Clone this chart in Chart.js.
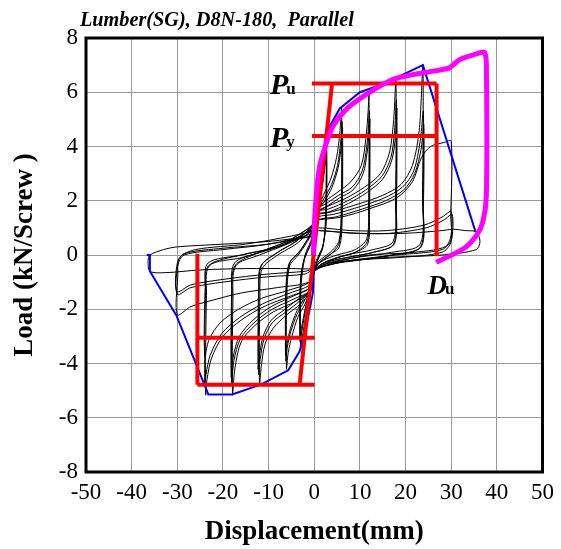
<!DOCTYPE html>
<html>
<head>
<meta charset="utf-8">
<script src="https://cdn.jsdelivr.net/npm/chart.js@4.4.1/dist/chart.umd.min.js"></script>
<style>
  html, body { margin: 0; padding: 0; background: #fff; }
  #box { width: 561px; height: 549px; position: relative; }
</style>
</head>
<body>
<div id="box"><canvas id="grafico"></canvas></div>
<script>
// --- eixos ---
const xTicks = [-50, -40, -30, -20, -10, 0, 10, 20, 30, 40, 50];
const yTicks = [-8, -6, -4, -2, 0, 2, 4, 6, 8];

// --- ciclos (deslocamento mm, carga kN) ---
const ciclo3 = [
  [0,0],[0.7,1.3],[1.5,2.5],[2.1,3.5],[2.6,4.5],[2.5,1.6],[2.0,0.4],[1.0,0.0],[0,-0.4],[-0.8,-1.2],[-1.8,-2.2],[-2.6,-3.0],[-3.0,-3.5],[-2.9,-1.2],[-2.2,-0.2],[-1.0,0.3],[0,0.7],
  [0.8,1.6],[1.8,2.7],[2.4,3.6],[2.7,4.2],[2.6,1.3],[1.9,0.3],[0.7,-0.2],[-0.6,-0.9],[-1.9,-2.0],[-2.7,-2.8],[-3.1,-3.2],[-3.0,-1.0],[-2.1,-0.1],[-0.8,0.4],[0,0.8],
  [0.9,1.7],[1.9,2.7],[2.5,3.5],[2.7,4.1],[2.6,1.2],[1.7,0.2],[0.5,-0.3],[-0.7,-1.0],[-2.0,-2.0],[-2.8,-2.7],[-3.1,-3.1],[-3.0,-0.9],[-2.0,0.0],[-0.8,0.5],[0,0.9]
];
const ciclo6 = [
  [0.6,1.6],[2.0,2.2],[3.6,2.8],[4.9,3.6],[5.6,4.5],[6.0,5.4],[5.9,1.7],[5.4,0.5],[3.5,0.1],[1.2,-0.2],[0,-0.5],[-0.7,-1.2],[-2.0,-1.8],[-3.6,-2.3],[-4.9,-3.0],[-5.7,-3.6],[-6.1,-4.2],[-6.0,-1.5],[-5.4,-0.4],[-3.5,0.0],[-1.5,0.5],[0,1.0],
  [0.7,1.6],[2.2,2.1],[3.8,2.6],[5.1,3.3],[5.8,4.2],[6.1,4.9],[6.0,1.4],[5.4,0.4],[3.4,0.0],[1.0,-0.3],[0,-0.6],[-0.8,-1.2],[-2.2,-1.7],[-3.8,-2.2],[-5.1,-2.8],[-5.9,-3.4],[-6.2,-3.9],[-6.1,-1.3],[-5.4,-0.3],[-3.4,0.1],[-1.4,0.6],[0,1.1],
  [0.7,1.6],[2.3,2.0],[3.9,2.5],[5.2,3.2],[5.9,4.0],[6.2,4.7],[6.1,1.3],[5.5,0.3],[3.3,0.0],[1.0,-0.3],[0,-0.6],[-0.8,-1.2],[-2.3,-1.6],[-3.9,-2.1],[-5.2,-2.7],[-6.0,-3.3],[-6.3,-3.7],[-6.2,-1.2],[-5.5,-0.3],[-3.3,0.1],[-1.4,0.6],[0,1.1]
];
const ciclo12 = [
  [0.6,1.7],[2.5,2.0],[5.0,2.3],[8.0,2.7],[10.3,3.3],[11.3,4.3],[11.8,5.3],[12.0,6.0],[11.9,1.8],[11.5,0.6],[9.0,0.2],[5.0,0.0],[2.0,-0.2],[0,-0.5],[-0.7,-1.3],[-3.0,-1.8],[-6.0,-2.2],[-9.0,-2.7],[-10.8,-3.3],[-11.6,-4.1],[-12.0,-4.8],[-11.9,-1.5],[-11.4,-0.5],[-8.0,0.0],[-4.0,0.4],[-1.5,0.8],[0,1.2],
  [0.7,1.7],[2.7,1.9],[5.3,2.2],[8.3,2.5],[10.5,3.1],[11.5,4.0],[11.9,4.8],[12.1,5.3],[12.0,1.6],[11.6,0.5],[9.0,0.1],[5.0,-0.1],[2.0,-0.3],[0,-0.6],[-0.8,-1.3],[-3.2,-1.7],[-6.2,-2.1],[-9.2,-2.5],[-11.0,-3.1],[-11.8,-3.8],[-12.2,-4.4],[-12.1,-1.4],[-11.6,-0.4],[-8.0,0.1],[-4.0,0.5],[-1.5,0.9],[0,1.2],
  [0.7,1.6],[2.8,1.8],[5.5,2.1],[8.5,2.4],[10.7,3.0],[11.6,3.8],[12.0,4.5],[12.2,5.0],[12.1,1.5],[11.7,0.4],[9.0,0.1],[5.0,-0.1],[2.0,-0.3],[0,-0.6],[-0.8,-1.3],[-3.3,-1.6],[-6.4,-2.0],[-9.4,-2.4],[-11.2,-3.0],[-12.0,-3.7],[-12.3,-4.2],[-12.2,-1.3],[-11.7,-0.4],[-8.0,0.1],[-4.0,0.5],[-1.5,0.9],[0,1.2]
];
const ciclo18 = [
  [0.6,1.6],[3.0,1.8],[7.0,2.1],[11.0,2.5],[14.5,3.0],[16.5,3.8],[17.4,5.0],[17.9,6.5],[17.8,2.0],[17.3,0.5],[13.0,0.2],[7.0,0.0],[2.0,-0.3],[0,-0.6],[-0.8,-1.3],[-4.0,-1.7],[-9.0,-2.1],[-13.0,-2.6],[-16.0,-3.2],[-17.4,-4.2],[-17.9,-5.15],[-17.8,-1.6],[-17.2,-0.4],[-12.0,0.0],[-6.0,0.4],[-2.0,0.8],[0,1.2],
  [0.7,1.6],[3.2,1.7],[7.3,2.0],[11.3,2.4],[14.8,2.9],[16.8,3.6],[17.6,4.6],[18.0,5.7],[17.9,1.8],[17.4,0.4],[13.0,0.1],[7.0,-0.1],[2.0,-0.3],[0,-0.6],[-0.9,-1.3],[-4.2,-1.6],[-9.2,-2.0],[-13.2,-2.5],[-16.2,-3.1],[-17.6,-3.9],[-18.1,-4.7],[-18.0,-1.5],[-17.4,-0.4],[-12.0,0.1],[-6.0,0.5],[-2.0,0.9],[0,1.2],
  [0.7,1.5],[3.4,1.6],[7.5,1.9],[11.5,2.3],[15.0,2.8],[17.0,3.5],[17.8,4.4],[18.1,5.4],[18.0,1.7],[17.5,0.4],[13.0,0.1],[7.0,-0.1],[2.0,-0.3],[0,-0.6],[-0.9,-1.2],[-4.4,-1.5],[-9.4,-1.9],[-13.4,-2.4],[-16.4,-3.0],[-17.8,-3.8],[-18.2,-4.5],[-18.1,-1.4],[-17.5,-0.3],[-12.0,0.1],[-6.0,0.5],[-2.0,0.9],[0,1.1]
];
const ciclo24 = [
  [0.7,1.5],[4.0,1.6],[10.0,1.9],[15.0,2.2],[19.0,2.6],[21.5,3.3],[23.0,4.6],[23.8,7.0],[23.7,2.2],[23.2,0.4],[17.0,0.1],[9.0,-0.1],[3.0,-0.3],[0,-0.6],[-1.0,-1.2],[-5.0,-1.5],[-11.0,-1.9],[-16.0,-2.4],[-20.0,-3.0],[-22.5,-3.8],[-23.5,-4.6],[-23.8,-5.15],[-23.6,-1.5],[-23.0,-0.4],[-16.0,-0.1],[-8.0,0.3],[-2.0,0.8],[0,1.1],
  [0.8,1.4],[4.3,1.5],[10.3,1.8],[15.3,2.1],[19.3,2.5],[21.8,3.1],[23.2,4.2],[23.9,5.3],[23.8,1.9],[23.3,0.3],[17.0,0.0],[9.0,-0.2],[3.0,-0.3],[0,-0.6],[-1.0,-1.1],[-5.3,-1.4],[-11.3,-1.8],[-16.3,-2.3],[-20.3,-2.9],[-22.8,-3.7],[-23.7,-4.4],[-24.0,-4.8],[-23.8,-1.4],[-23.2,-0.4],[-16.0,0.0],[-8.0,0.3],[-2.0,0.8],[0,1.0],
  [0.8,1.3],[4.6,1.4],[10.6,1.7],[15.6,2.0],[19.6,2.4],[22.0,3.0],[23.4,3.9],[24.0,4.8],[23.9,1.7],[23.4,0.3],[17.0,0.0],[9.0,-0.2],[3.0,-0.3],[0,-0.6],[-1.0,-1.0],[-5.6,-1.3],[-11.6,-1.6],[-16.6,-2.0],[-20.6,-2.5],[-23.0,-3.1],[-24.0,-3.7],[-23.9,-1.2],[-23.3,-0.3],[-16.0,0.0],[-8.0,0.3],[-2.0,0.7],[0,1.0]
];
const ciclo30 = [
  [1.0,1.3],[6.0,1.4],[12.0,1.7],[18.0,2.1],[21.5,2.7],[23.5,3.6],[25.5,4.0],[28.5,4.15],[30.0,4.2],[29.9,1.5],[29.5,0.4],[22.0,0.1],[12.0,0.0],[4.0,-0.3],[0,-0.6],[-1.2,-1.0],[-8.0,-1.2],[-16.0,-1.4],[-23.0,-1.7],[-27.0,-1.9],[-30.0,-2.2],[-29.9,-0.8],[-29.5,-0.1],[-26.0,0.2],[-15.0,0.4],[-5.0,0.7],[0,0.9],
  [1.0,1.0],[8.0,0.9],[16.0,0.9],[24.0,1.1],[28.0,1.4],[30.0,1.6],[29.8,0.6],[28.0,0.2],[18.0,0.0],[8.0,-0.2],[0,-0.5],[-2.0,-0.7],[-10.0,-0.8],[-20.0,-1.0],[-27.0,-1.2],[-30.0,-1.45],[-29.9,-0.4],[-28.5,0.0],[-20.0,0.2],[-10.0,0.4],[0,0.8],
  [1.0,0.9],[8.5,0.8],[16.5,0.8],[24.5,1.0],[28.5,1.3],[30.2,1.5],[30.0,0.5],[28.0,0.1],[18.0,-0.1],[8.0,-0.2],[0,-0.5],[-2.0,-0.6],[-10.0,-0.7],[-20.0,-0.9],[-27.0,-1.1],[-30.1,-1.35],[-30.0,-0.3],[-28.5,0.05],[-20.0,0.25],[-10.0,0.4],[0,0.7]
];
const cicloFinal = [
  [1.0,0.9],[10.0,0.8],[20.0,0.8],[28.0,0.9],[30.5,0.95],[33.0,0.9],[35.5,0.85],[36.3,0.5],[35.5,0.2],[28.0,0.0],[15.0,-0.1],[5.0,-0.3],[0,-0.5],[-5.0,-0.5],[-15.0,-0.5],[-25.0,-0.55],[-32.5,-0.65],[-36.0,-0.6],[-36.4,-0.2],[-36.0,0.0],[-33.0,0.2],[-30.0,0.3],[-20.0,0.4],[-10.0,0.5],[0,0.7]
];

// envoltória (azul)
const envoltoria = [
  [-36.7,0],[-36.0,0],[-36.0,-0.6],[-30.2,-2.23],[-23.2,-5.14],[-18.0,-5.14],[-11.6,-4.77],[-5.7,-4.25],[-3.2,-3.55],[-1.7,-2.6],[-0.3,-1.4],
  [0,0],[0.5,1.7],[1.6,3.2],[3.4,4.75],[5.6,5.4],[10.0,6.0],[15.0,6.3],[23.8,7.0],[35.3,0.87]
];

// ensaio monotônico (magenta)
const monotonico = [
  [-0.2,0],[0.1,1.4],[0.6,2.5],[1.2,3.3],[2.7,4.15],[4.1,4.75],[7.0,5.37],[11.4,5.92],[17.2,6.47],[21.6,6.65],[26.0,6.78],[29.6,6.9],
  [31.8,7.2],[36.6,7.47],[37.3,7.47],[37.7,7.08],[37.7,2.18],[36.9,1.2],[35.5,0.71],[32.6,0.22],[26.7,-0.27]
];

// parâmetros bilineares (vermelho)
const puPos = 6.32, pyPos = 4.39, duPos = 26.8, xIniPos = -0.5;
const puNeg = -4.78, pyNeg = -3.05, duNeg = -25.6, xIniNeg = 0.1;
const rigidez = [[-3.2,-4.78],[3.9,6.32]];

const SERIF = "'Times New Roman', 'Liberation Serif', serif";
const pts = arr => arr.map(([x, y]) => ({ x, y }));

const linhaPreta = (arr) => ({
  data: pts(arr), showLine: true, borderColor: '#000', borderWidth: 1,
  pointRadius: 0, tension: 0.3, order: 5
});
const linhaVermelha = (arr) => ({
  data: pts(arr), showLine: true, borderColor: '#ff0000', borderWidth: 4,
  pointRadius: 0, tension: 0, order: 2
});

const datasets = [
  { data: pts(monotonico), showLine: true, borderColor: '#ff00ff', borderWidth: 5, pointRadius: 0, tension: 0.25, order: 1 },
  linhaVermelha([[xIniPos, puPos], [duPos, puPos]]),
  linhaVermelha([[xIniPos, pyPos], [duPos, pyPos]]),
  linhaVermelha([[duPos, puPos], [duPos, -0.05]]),
  linhaVermelha(rigidez),
  linhaVermelha([[duNeg, puNeg], [xIniNeg, puNeg]]),
  linhaVermelha([[duNeg, pyNeg], [xIniNeg, pyNeg]]),
  linhaVermelha([[duNeg, puNeg], [duNeg, 0.05]]),
  { data: pts(envoltoria), showLine: true, borderColor: '#0000ff', borderWidth: 2, pointRadius: 0, tension: 0, order: 3 },
  linhaPreta(ciclo3), linhaPreta(ciclo6), linhaPreta(ciclo12), linhaPreta(ciclo18),
  linhaPreta(ciclo24), linhaPreta(ciclo30), linhaPreta(cicloFinal)
];

// moldura, título e rótulos Pu / Py / Du
const extras = {
  id: 'extras',
  afterDraw(chart) {
    const { ctx, chartArea: a, scales: { x, y } } = chart;
    ctx.save();
    ctx.strokeStyle = '#000';
    ctx.lineWidth = 3;
    ctx.strokeRect(a.left, a.top, a.right - a.left, a.bottom - a.top);

    ctx.fillStyle = '#000';
    ctx.textBaseline = 'alphabetic';
    ctx.textAlign = 'left';
    ctx.save();
    ctx.translate(80, 26);
    ctx.scale(0.92, 1);
    ctx.font = `italic bold 22px ${SERIF}`;
    ctx.fillText('Lumber(SG), D8N-180,  Parallel', 0, 0);
    ctx.restore();

    const rotulo = (letra, sub, vx, vy, tam) => {
      const px = x.getPixelForValue(vx), py = y.getPixelForValue(vy);
      ctx.font = `italic bold ${tam}px ${SERIF}`;
      ctx.fillText(letra, px, py);
      const w = ctx.measureText(letra).width;
      ctx.font = `bold 17px ${SERIF}`;
      ctx.fillText(sub, px + w - 2, py);
    };
    rotulo('P', 'u', -9.7, 5.92, 30);
    rotulo('P', 'y', -9.7, 4.0, 30);
    rotulo('D', 'u', 24.8, -1.43, 27);
    ctx.restore();
  }
};

new Chart(document.getElementById('grafico'), {
  type: 'scatter',
  data: { datasets },
  options: {
    responsive: true,
    maintainAspectRatio: false,
    animation: false,
    layout: { padding: { top: 38, right: 18, left: 0, bottom: 0 } },
    plugins: { legend: { display: false }, tooltip: { enabled: false } },
    scales: {
      x: {
        type: 'linear', min: xTicks[0], max: xTicks[xTicks.length - 1],
        afterBuildTicks: s => { s.ticks = xTicks.map(v => ({ value: v })); },
        ticks: { color: '#000', font: { family: SERIF, size: 23 }, padding: 7, maxRotation: 0 },
        grid: { color: '#9a9a9a', lineWidth: 1, drawTicks: false },
        border: { display: false },
        title: { display: true, text: 'Displacement(mm)', color: '#000',
                 font: { family: SERIF, size: 27, weight: 'bold' }, padding: { top: 0, bottom: 1 } },
        afterFit: s => { s.height = 77; }
      },
      y: {
        type: 'linear', min: yTicks[0], max: yTicks[yTicks.length - 1],
        afterBuildTicks: s => { s.ticks = yTicks.map(v => ({ value: v })); },
        ticks: { color: '#000', font: { family: SERIF, size: 23 }, padding: 8 },
        grid: { color: '#9a9a9a', lineWidth: 1, drawTicks: false },
        border: { display: false },
        title: { display: true, text: 'Load (kN/Screw )', color: '#000',
                 font: { family: SERIF, size: 27, weight: 'bold' }, padding: { top: 9, bottom: 0 } },
        afterFit: s => { s.width = 86; }
      }
    }
  },
  plugins: [extras]
});
</script>
</body>
</html>
